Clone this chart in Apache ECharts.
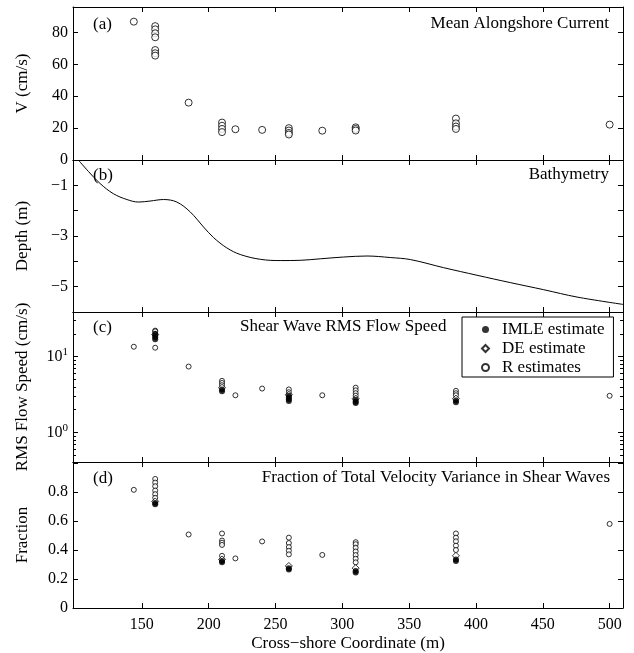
<!DOCTYPE html>
<html><head><meta charset="utf-8">
<script src="https://cdn.jsdelivr.net/npm/echarts@6/dist/echarts.min.js"></script>
<style>html,body{margin:0;padding:0;background:#fff}#c{width:634px;height:653px}</style>
</head><body><div id="c"></div><script>
// ---------- data ----------
const xTicks = [150, 200, 250, 300, 350, 400, 450, 500];
const vTicks = [0, 20, 40, 60, 80];
const depthTicks = [-5, -4, -3, -2, -1];
const depthLabels = [-5, -3, -1];
const rmsTicks = [1, 10];
const rmsMinorTicks = [0.5, 0.6, 0.7, 0.8, 0.9, 2, 3, 4, 5, 6, 7, 8, 9, 20, 30];
const fracTicks = [0, 0.2, 0.4, 0.6, 0.8];

// (a) mean alongshore current V (cm/s)
const meanCurrent = [[144,86.8],[160,84],[160,82],[160,79.5],[160,77],[160,69],[160,67],[160,65.5],
  [185,36],[210,23.5],[210,21.5],[210,19.5],[210,17.5],[220,19.3],[240,18.9],
  [260,20],[260,18.5],[260,17],[260,16],[285,18.4],[310,20.5],[310,19.5],[310,18.5],
  [385,26],[385,23],[385,21],[385,19.5],[500,22.2]];

// (b) bathymetry depth (m)
const bathymetry = [[102.5,0],[110,-0.45],[118.8,-0.93],[128.7,-1.33],[138.8,-1.56],[147.5,-1.66],
  [156.2,-1.62],[166.2,-1.56],[176.2,-1.66],[186.2,-2.05],[196.1,-2.64],[203.6,-3.06],
  [213.6,-3.47],[223.6,-3.73],[238.6,-3.92],[253.5,-3.97],[268.5,-3.96],[283.5,-3.9],
  [301,-3.83],[318.5,-3.79],[335.9,-3.85],[350.9,-3.93],[375.8,-4.25],[400.8,-4.55],
  [425.7,-4.84],[450.7,-5.12],[475.6,-5.41],[510,-5.7]];

// (c) RMS flow speed (cm/s)
const rmsR = [[144,13.5],[160,22],[160,21.5],[160,13.1],[185,7.4],[210,4.8],[210,4.5],[210,4.2],
  [220,3.1],[240,3.8],[260,3.7],[260,3.4],[285,3.1],[310,3.9],[310,3.6],[310,3.3],[310,3.05],
  [385,3.55],[385,3.3],[385,3.1],[500,3.05]];
const rmsIMLE = [[160,17],[160,18],[160,19],[160,20],[210,3.5],[210,3.7],[260,2.6],[260,2.75],[260,2.9],[260,3.05],
  [310,2.45],[310,2.55],[310,2.7],[385,2.5],[385,2.65]];
const rmsDE = [[160,19.5],[210,3.9],[260,3.15],[310,2.8],[385,2.8]];

// (d) fraction of total velocity variance in shear waves
const fracR = [[144,0.815],[160,0.89],[160,0.865],[160,0.84],[160,0.81],[160,0.785],[160,0.76],
  [185,0.507],[210,0.514],[210,0.465],[210,0.45],[210,0.435],[210,0.36],[220,0.342],[240,0.459],
  [260,0.485],[260,0.448],[260,0.42],[260,0.395],[260,0.37],[285,0.366],
  [310,0.454],[310,0.44],[310,0.415],[310,0.39],[310,0.365],[310,0.34],[310,0.315],
  [385,0.514],[385,0.485],[385,0.46],[385,0.43],[385,0.4],[500,0.58]];
const fracIMLE = [[160,0.715],[160,0.725],[210,0.315],[210,0.325],[260,0.265],[260,0.275],
  [310,0.245],[310,0.255],[385,0.325],[385,0.335]];
const fracDE = [[160,0.735],[210,0.335],[260,0.29],[310,0.275],[385,0.36]];

// ---------- chart ----------
const FONT = '"Liberation Serif", "Times New Roman", serif';
const BLK = '#000';
const X_MIN = 98.5, X_MAX = 510;

const grids = [
  {left: 73, right: 11, top: 7, height: 153},
  {left: 73, right: 11, top: 160, height: 152},
  {left: 73, right: 11, top: 312, height: 150},
  {left: 73, right: 11, top: 462, height: 152}
];

function xPair(gi, last) {
  const base = {
    type: 'value', gridIndex: gi, min: X_MIN, max: X_MAX,
    axisLine: {show: true, onZero: false, lineStyle: {color: BLK, width: 1}},
    axisTick: {show: true, inside: true, length: 5, customValues: xTicks, lineStyle: {color: BLK}},
    splitLine: {show: false}
  };
  const bottom = Object.assign({}, base, {
    position: 'bottom',
    axisLabel: {show: last, customValues: xTicks, margin: 9, color: BLK, fontFamily: FONT, fontSize: 16},
  });
  if (last) {
    Object.assign(bottom, {name: 'Cross\u2212shore Coordinate (m)', nameLocation: 'middle', nameGap: 27,
      nameTextStyle: {color: BLK, fontFamily: FONT, fontSize: 17}});
  }
  const top = Object.assign({}, base, {position: 'top', axisLabel: {show: false}});
  return [bottom, top];
}

function yAxisDef(gi, pos, opts) {
  return Object.assign({
    gridIndex: gi, position: pos, type: 'value',
    axisLine: {show: true, onZero: false, lineStyle: {color: BLK, width: 1}},
    splitLine: {show: false},
    nameLocation: 'middle', nameGap: 42, nameRotate: 90,
    nameTextStyle: {color: BLK, fontFamily: FONT, fontSize: 17}
  }, opts);
}
const lbl = (vals, extra) => Object.assign({show: true, customValues: vals, margin: 5, color: BLK, fontFamily: FONT, fontSize: 16}, extra || {});
const tck = (vals, len) => ({show: true, inside: true, length: len || 5, customValues: vals, lineStyle: {color: BLK}});

const xAxis = [].concat(xPair(0, false), xPair(1, false), xPair(2, false), xPair(3, true));

const yAxis = [
  // (a) 0,1
  yAxisDef(0, 'left', {min: 0, max: 96, name: 'V (cm/s)', axisLabel: lbl(vTicks), axisTick: tck([20,40,60,80])}),
  yAxisDef(0, 'right', {min: 0, max: 96, axisLabel: {show: false}, axisTick: tck([20,40,60,80])}),
  // (b) 2,3
  yAxisDef(1, 'left', {min: -6, max: 0, name: 'Depth (m)',
    axisLabel: lbl(depthLabels, {formatter: v => '\u2212' + Math.abs(v)}), axisTick: tck(depthTicks)}),
  yAxisDef(1, 'right', {min: -6, max: 0, axisLabel: {show: false}, axisTick: tck(depthTicks)}),
  // (c) 4,5,6,7
  yAxisDef(2, 'left', {type: 'log', logBase: 10, min: 0.41, max: 38.7, name: 'RMS Flow Speed (cm/s)',
    axisLabel: lbl(rmsTicks, {formatter: v => '{b|10}{s|' + Math.round(Math.log10(v)) + '}',
      rich: {b: {fontFamily: FONT, fontSize: 16, color: BLK}, s: {fontFamily: FONT, fontSize: 11, color: BLK, verticalAlign: 'top', padding: [0, 0, 9, 0]}}}),
    axisTick: tck(rmsTicks)}),
  yAxisDef(2, 'right', {type: 'log', logBase: 10, min: 0.41, max: 38.7, axisLabel: {show: false}, axisTick: tck(rmsTicks)}),
  yAxisDef(2, 'left', {type: 'log', logBase: 10, min: 0.41, max: 38.7, axisLine: {show: false}, axisLabel: {show: false}, axisTick: tck(rmsMinorTicks, 3)}),
  yAxisDef(2, 'right', {type: 'log', logBase: 10, min: 0.41, max: 38.7, axisLine: {show: false}, axisLabel: {show: false}, axisTick: tck(rmsMinorTicks, 3)}),
  // (d) 8,9
  yAxisDef(3, 'left', {min: 0, max: 1.007, name: 'Fraction', axisLabel: lbl(fracTicks), axisTick: tck([0.2,0.4,0.6,0.8,1.0])}),
  yAxisDef(3, 'right', {min: 0, max: 1.007, axisLabel: {show: false}, axisTick: tck([0.2,0.4,0.6,0.8,1.0])})
];

const hollow = {color: '#fff', borderColor: BLK, borderWidth: 1};
const filled = {color: BLK, borderColor: BLK, borderWidth: 0};

function scat(name, data, xi, yi, symbol, size, style, z) {
  return {type: 'scatter', name, data, xAxisIndex: xi, yAxisIndex: yi, symbol, symbolSize: size,
    itemStyle: style, z: z, silent: true};
}

const series = [
  scat('V', meanCurrent, 0, 0, 'circle', 7, hollow, 2),
  {type: 'line', name: 'Bathymetry', data: bathymetry, xAxisIndex: 2, yAxisIndex: 2, showSymbol: false,
    smooth: 0.35, lineStyle: {color: BLK, width: 1}, itemStyle: {color: BLK}, silent: true},
  scat('R estimates', rmsR, 4, 4, 'circle', 5, hollow, 2),
  scat('DE estimate', rmsDE, 4, 4, 'diamond', 7, hollow, 3),
  scat('IMLE estimate', rmsIMLE, 4, 4, 'circle', 6, filled, 4),
  scat('R estimates', fracR, 6, 8, 'circle', 5, hollow, 2),
  scat('DE estimate', fracDE, 6, 8, 'diamond', 7, hollow, 3),
  scat('IMLE estimate', fracIMLE, 6, 8, 'circle', 6, filled, 4)
];

const txt = (text, x, y, align) => ({type: 'text', z: 10, silent: true,
  style: {text, x, y, align: align || 'left', verticalAlign: 'middle', font: '17px ' + FONT, fill: BLK}});

const option = {
  animation: false,
  backgroundColor: '#fff',
  grid: grids.map(g => Object.assign({show: false, containLabel: false}, g)),
  xAxis, yAxis, series,
  legend: {
    left: 462, top: 317, orient: 'vertical', selectedMode: false,
    borderColor: BLK, borderWidth: 1, backgroundColor: '#fff',
    padding: [4, 9, 1, 19], itemGap: 2, itemWidth: 7, itemHeight: 7,
    textStyle: {fontFamily: FONT, fontSize: 17, color: BLK, lineHeight: 17, padding: [0, 0, 0, 8]},
    data: [{name: 'IMLE estimate', icon: 'circle'}, {name: 'DE estimate', icon: 'diamond'}, {name: 'R estimates', icon: 'circle'}]
  },
  graphic: [
    txt('(a)', 93, 25), txt('Mean Alongshore Current', 609, 24, 'right'),
    txt('(b)', 93, 176), txt('Bathymetry', 609, 175, 'right'),
    txt('(c)', 93, 328), txt('Shear Wave RMS Flow Speed', 240, 327),
    txt('(d)', 93, 479), txt('Fraction of Total Velocity Variance in Shear Waves', 610, 478, 'right')
  ]
};

const chart = echarts.init(document.getElementById('c'), null, {renderer: 'canvas'});
chart.setOption(option);
</script></body></html>
